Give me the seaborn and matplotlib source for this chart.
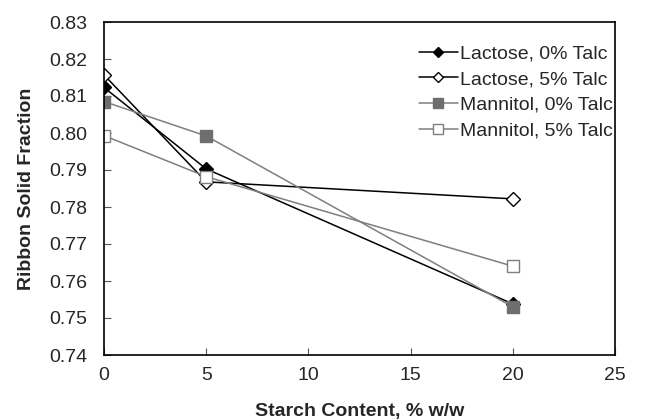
import matplotlib
matplotlib.use("Agg")
import matplotlib.pyplot as plt
import seaborn as sns
import pandas as pd

starch = [0, 5, 20]
lactose_0 = [0.8123, 0.7903, 0.7538]
lactose_5 = [0.8157, 0.7868, 0.7822]
mannitol_0 = [0.8085, 0.7992, 0.7530]
mannitol_5 = [0.7993, 0.7882, 0.7640]
series_names = ["Lactose, 0% Talc", "Lactose, 5% Talc", "Mannitol, 0% Talc", "Mannitol, 5% Talc"]

sns.set_theme(style="white")
plt.rcParams["font.family"] = ["Liberation Sans", "DejaVu Sans"]

fig = plt.figure(figsize=(6.54, 4.2), dpi=100)
ax = fig.add_axes([104 / 654, 1 - 355 / 420, 511 / 654, 333 / 420])

styles = [
    dict(color="black", marker="D", mfc="black", mec="black", ms=7),
    dict(color="black", marker="D", mfc="white", mec="black", ms=7),
    dict(color="#7f7f7f", marker="s", mfc="#6e6e6e", mec="#6e6e6e", ms=9),
    dict(color="#7f7f7f", marker="s", mfc="white", mec="#7f7f7f", ms=9),
]

for name, vals, st in zip(series_names, [lactose_0, lactose_5, mannitol_0, mannitol_5], styles):
    df = pd.DataFrame({"x": starch, "y": vals})
    sns.lineplot(data=df, x="x", y="y", ax=ax, label=name, color=st["color"],
                 marker=st["marker"], markerfacecolor=st["mfc"], markeredgecolor=st["mec"],
                 markersize=st["ms"], markeredgewidth=1.0, linewidth=1.1)

ax.set_xlim(0, 25)
ax.set_ylim(0.74, 0.83)
ax.set_xticks([0, 5, 10, 15, 20, 25])
ax.set_yticks([0.74 + 0.01 * i for i in range(10)])
ax.set_yticklabels([f"{0.74 + 0.01 * i:.2f}" for i in range(10)])
ax.tick_params(axis="both", direction="in", length=5, width=0.8, color="#555555",
               labelsize=14, bottom=True, left=True, top=False, right=False)
ax.tick_params(axis="x", pad=9)
ax.tick_params(axis="y", pad=12)
for sp in ax.spines.values():
    sp.set_color("black")
    sp.set_linewidth(1.2)

ax.set_xlabel("Starch Content, % w/w", fontsize=14, fontweight="bold", labelpad=13)
ax.set_ylabel("Ribbon Solid Fraction", fontsize=14, fontweight="bold", labelpad=10)

leg = ax.legend(loc="upper left", bbox_to_anchor=(0.601, 0.955), frameon=False, fontsize=14,
                handlelength=2.0, handletextpad=0.1, labelspacing=0.42, borderaxespad=0,
                markerscale=0.8)

fig.savefig("out.png", dpi=100)
